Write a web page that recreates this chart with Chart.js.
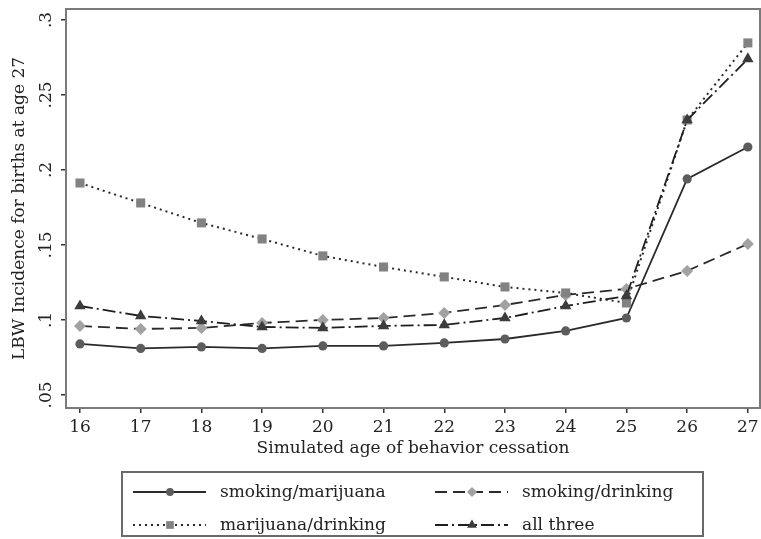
<!DOCTYPE html>
<html>
<head>
<meta charset="utf-8">
<script src="https://cdn.jsdelivr.net/npm/chart.js"></script>
<style>
  body { margin: 0; background: #fff; }
  #wrap { width: 761px; height: 539px; }
</style>
</head>
<body>
<div id="wrap"><canvas id="chart" width="761" height="539"></canvas></div>
<script>
// data
const ages = [16, 17, 18, 19, 20, 21, 22, 23, 24, 25, 26, 27];
const smokingMarijuana = [0.084, 0.081, 0.082, 0.081, 0.0827, 0.0827, 0.0847, 0.0873, 0.0927, 0.1013, 0.194, 0.2153];
const smokingDrinking = [0.096, 0.094, 0.0947, 0.098, 0.1, 0.1013, 0.1047, 0.11, 0.1167, 0.1207, 0.1327, 0.1507];
const marijuanaDrinking = [0.1913, 0.178, 0.1647, 0.154, 0.1427, 0.1353, 0.1287, 0.122, 0.118, 0.1113, 0.2333, 0.2847];
const allThree = [0.1093, 0.1027, 0.0993, 0.0953, 0.0947, 0.096, 0.0967, 0.1013, 0.1093, 0.116, 0.2333, 0.274];
const seriesNames = ['smoking/marijuana', 'smoking/drinking', 'marijuana/drinking', 'all three'];
const xTicks = [16, 17, 18, 19, 20, 21, 22, 23, 24, 25, 26, 27];
const yTicks = [0.05, 0.1, 0.15, 0.2, 0.25, 0.3];
const yTickLabels = ['.05', '.1', '.15', '.2', '.25', '.3'];

const FONT = 'DejaVu Serif';
const pts = vals => ages.map((a, i) => ({ x: a, y: vals[i] }));

function marker(ctx, style, r, x, y, color) {
  ctx.save();
  ctx.fillStyle = color;
  ctx.beginPath();
  if (style === 'circle') {
    ctx.arc(x, y, r, 0, Math.PI * 2);
  } else if (style === 'rect') {
    const s = r * Math.SQRT1_2;
    ctx.rect(x - s, y - s, 2 * s, 2 * s);
  } else if (style === 'rectRot') {
    ctx.moveTo(x, y - r); ctx.lineTo(x + r, y); ctx.lineTo(x, y + r); ctx.lineTo(x - r, y);
  } else if (style === 'triangle') {
    ctx.moveTo(x, y - r); ctx.lineTo(x + r * 0.866, y + r * 0.5); ctx.lineTo(x - r * 0.866, y + r * 0.5);
  }
  ctx.closePath();
  ctx.fill();
  ctx.restore();
}

// plot box + boxed two-column legend
const stataFrame = {
  id: 'stataFrame',
  beforeDatasetsDraw(chart) {
    const { ctx, chartArea: a } = chart;
    ctx.save();
    ctx.strokeStyle = '#7a7a7a';
    ctx.lineWidth = 2;
    ctx.strokeRect(a.left, a.top, a.right - a.left, a.bottom - a.top);
    ctx.restore();
  },
  afterDraw(chart) {
    const ctx = chart.ctx;
    ctx.save();
    ctx.strokeStyle = '#6a6a6a';
    ctx.lineWidth = 2;
    ctx.strokeRect(122, 472, 581, 64);
    const colX = [133, 435];
    const rowY = [492, 525];
    chart.data.datasets.forEach((ds, i) => {
      const x0 = colX[i % 2], y = rowY[Math.floor(i / 2)];
      ctx.save();
      ctx.strokeStyle = ds.borderColor;
      ctx.lineWidth = ds.borderWidth;
      ctx.setLineDash(ds.borderDash || []);
      ctx.beginPath();
      ctx.moveTo(x0, y);
      ctx.lineTo(x0 + 73, y);
      ctx.stroke();
      ctx.restore();
      marker(ctx, ds.pointStyle, ds.pointRadius * 0.85, x0 + 37, y, ds.pointBackgroundColor);
      ctx.fillStyle = '#222';
      ctx.font = '17px "' + FONT + '"';
      ctx.textBaseline = 'middle';
      ctx.textAlign = 'left';
      ctx.fillText(ds.label, x0 + 87, y + 1);
    });
    ctx.restore();
  }
};

const ctx = document.getElementById('chart').getContext('2d');
new Chart(ctx, {
  type: 'line',
  data: {
    datasets: [
      {
        label: seriesNames[0], data: pts(smokingMarijuana), order: 4,
        borderColor: '#2a2a2a', borderWidth: 1.8, borderDash: [],
        pointStyle: 'circle', pointRadius: 4.6, pointBackgroundColor: '#5c5c5c', pointBorderColor: '#5c5c5c', pointBorderWidth: 0
      },
      {
        label: seriesNames[1], data: pts(smokingDrinking), order: 3,
        borderColor: '#2a2a2a', borderWidth: 1.8, borderDash: [12, 6],
        pointStyle: 'rectRot', pointRadius: 6, pointBackgroundColor: '#a2a2a2', pointBorderColor: '#a2a2a2', pointBorderWidth: 0
      },
      {
        label: seriesNames[2], data: pts(marijuanaDrinking), order: 2,
        borderColor: '#2a2a2a', borderWidth: 2, borderDash: [2, 4],
        pointStyle: 'rect', pointRadius: 6.4, pointBackgroundColor: '#828282', pointBorderColor: '#828282', pointBorderWidth: 0
      },
      {
        label: seriesNames[3], data: pts(allThree), order: 1,
        borderColor: '#1e1e1e', borderWidth: 1.8, borderDash: [13, 4, 2, 4],
        pointStyle: 'triangle', pointRadius: 6.6, pointBackgroundColor: '#3c3c3c', pointBorderColor: '#3c3c3c', pointBorderWidth: 0
      }
    ]
  },
  options: {
    responsive: false,
    animation: false,
    layout: { autoPadding: false, padding: { left: 0, top: 9, right: 1, bottom: 75 } },
    plugins: {
      legend: { display: false },
      tooltip: { enabled: false }
    },
    scales: {
      x: {
        type: 'linear',
        min: 15.77, max: 27.2,
        afterBuildTicks: s => { s.ticks = xTicks.map(v => ({ value: v })); },
        afterFit: s => { s.height = 56; s.paddingLeft = 0; s.paddingRight = 0; },
        ticks: { color: '#222', font: { family: FONT, size: 17 }, padding: 4, maxRotation: 0 },
        grid: { drawOnChartArea: false, drawTicks: true, tickLength: 5, color: '#333', lineWidth: 1.5 },
        border: { display: true, color: '#333', width: 2 },
        title: { display: true, text: 'Simulated age of behavior cessation', color: '#222',
                 font: { family: FONT, size: 17 }, padding: { top: 0, bottom: 5 } }
      },
      y: {
        min: 0.0413, max: 0.3073,
        afterBuildTicks: s => { s.ticks = yTicks.map(v => ({ value: v })); },
        afterFit: s => { s.width = 66; s.paddingTop = 0; s.paddingBottom = 0; },
        ticks: {
          color: '#222', font: { family: FONT, size: 17 }, padding: 1,
          minRotation: 90, maxRotation: 90, crossAlign: 'center',
          callback: v => yTickLabels[yTicks.indexOf(v)]
        },
        grid: { drawOnChartArea: false, drawTicks: true, tickLength: 5, color: '#333', lineWidth: 1.5 },
        border: { display: true, color: '#333', width: 2 },
        title: { display: true, text: 'LBW Incidence for births at age 27', color: '#222',
                 font: { family: FONT, size: 17 }, padding: { top: 9, bottom: 0 } }
      }
    }
  },
  plugins: [stataFrame]
});
</script>
</body>
</html>
